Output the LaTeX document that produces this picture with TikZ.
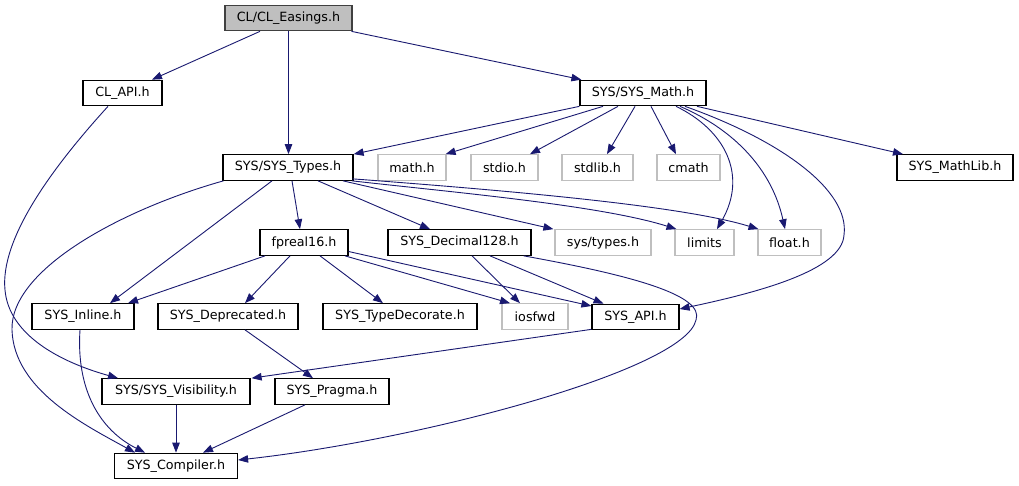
\documentclass[tikz,border=0pt]{standalone}
\usepackage{fontspec}
\setmainfont{DejaVu Sans}
\usetikzlibrary{arrows.meta}
\definecolor{edgeblue}{RGB}{25,25,112}
\definecolor{sysgray}{RGB}{191,191,191}
\definecolor{rootfill}{RGB}{191,191,191}
\definecolor{boxline}{RGB}{64,64,64}
\begin{document}
\begin{tikzpicture}[x=1pt,y=-1pt,
  box/.style={draw=black,line width=1.2pt,minimum height=25.5pt,inner sep=0pt,font=\fontsize{12.7}{15}\selectfont,text=black},
  sysbox/.style={box,draw=sysgray},
  rootbox/.style={box,fill=rootfill,draw=boxline},
  edge/.style={draw=edgeblue,line width=0.9pt,-{Triangle[length=10pt,width=7.5pt]}}]
\useasboundingbox (0,0) rectangle (1019,485);
\fill[white] (0,0) rectangle (1019,485);
% nodes
\node[rootbox,minimum width=127pt] (easings) at (288.5,18) {CL/CL\_Easings.h};
\node[box,minimum width=79pt] (clapi) at (122.5,93) {CL\_API.h};
\node[box,minimum width=126pt] (sysmath) at (643,93) {SYS/SYS\_Math.h};
\node[box,minimum width=130pt] (systypes) at (288,167.5) {SYS/SYS\_Types.h};
\node[sysbox,minimum width=68pt] (mathh) at (412,167.5) {math.h};
\node[sysbox,minimum width=67pt] (stdio) at (504.5,167.5) {stdio.h};
\node[sysbox,minimum width=71pt] (stdlib) at (597.5,167.5) {stdlib.h};
\node[sysbox,minimum width=63pt] (cmath) at (688.5,167.5) {cmath};
\node[box,minimum width=116pt] (mathlib) at (955,167.5) {SYS\_MathLib.h};
\node[box,minimum width=88pt] (fpreal) at (304,242.5) {fpreal16.h};
\node[box,minimum width=143pt] (dec) at (459.5,242.5) {SYS\_Decimal128.h};
\node[sysbox,minimum width=96pt] (systypesh) at (603,242.5) {sys/types.h};
\node[sysbox,minimum width=59pt] (limits) at (704.5,242.5) {limits};
\node[sysbox,minimum width=63pt] (floath) at (789.5,242.5) {float.h};
\node[box,minimum width=102pt] (inline) at (83,316.5) {SYS\_Inline.h};
\node[box,minimum width=140pt] (deprecated) at (228,316.5) {SYS\_Deprecated.h};
\node[box,minimum width=154pt] (typedec) at (400,316.5) {SYS\_TypeDecorate.h};
\node[sysbox,minimum width=66pt] (iosfwd) at (535,316.5) {iosfwd};
\node[box,minimum width=87pt] (sysapi) at (635.5,317) {SYS\_API.h};
\node[box,minimum width=148pt] (visibility) at (176,391.5) {SYS/SYS\_Visibility.h};
\node[box,minimum width=114pt] (pragma) at (332,391.5) {SYS\_Pragma.h};
\node[box,minimum width=123pt] (compiler) at (176,466) {SYS\_Compiler.h};
% edges
\draw[edge] ([xshift=-28.5pt]easings.south) -- ([xshift=29.5pt]clapi.north);
\draw[edge] (easings.south) -- (easings.south |- systypes.north);
\draw[edge] ([xshift=63pt]easings.south) -- ([xshift=2pt]sysmath.north west);
\draw[edge] ([xshift=-14.5pt]clapi.south) .. controls (50,170) and (0,240) .. (5,290) .. controls (9,335) and (60,362) .. ([xshift=-58pt]visibility.north);
\draw[edge] (sysmath.south west) -- (systypes.north east);
\draw[edge] ([xshift=-40pt]sysmath.south) -- ([xshift=-1pt]mathh.north east);
\draw[edge] ([xshift=-25pt]sysmath.south) -- ([xshift=25.5pt]stdio.north);
\draw[edge] ([xshift=-8pt]sysmath.south) -- ([xshift=9.5pt]stdlib.north);
\draw[edge] ([xshift=8pt]sysmath.south) -- ([xshift=-12.5pt]cmath.north);
\draw[edge] ([xshift=33pt]sysmath.south) .. controls (725,130) and (748,175) .. ([xshift=12.5pt]limits.north);
\draw[edge] ([xshift=37pt]sysmath.south) .. controls (735,130) and (772,170) .. ([xshift=-4.5pt]floath.north);
\draw[edge] ([xshift=42pt]sysmath.south) .. controls (780,140) and (850,190) .. (844,235) .. controls (842,270) and (760,292) .. ([yshift=8pt]sysapi.east);
\draw[edge] ([xshift=54pt]sysmath.south) -- ([xshift=-52pt]mathlib.north);
\draw[edge] ([xshift=4pt]systypes.south) -- ([xshift=-4pt]fpreal.north);
\draw[edge] ([xshift=30pt]systypes.south) -- ([xshift=-29.5pt]dec.north);
\draw[edge] ([xshift=55pt]systypes.south) -- ([xshift=-1pt]systypesh.north west);
\draw[edge] ([xshift=64pt]systypes.south) .. controls (450,192) and (600,205) .. ([xshift=-28pt]limits.north);
\draw[edge] ([xshift=-1pt,yshift=2pt]systypes.south east) .. controls (500,190) and (680,205) .. ([xshift=-31pt]floath.north);
\draw[edge] ([xshift=-16pt]systypes.south) -- ([xshift=27pt]inline.north);
\draw[edge] ([xshift=1pt]systypes.south west) .. controls (120,210) and (10,270) .. (12,330) .. controls (14,390) and (85,425) .. ([xshift=-41pt]compiler.north);
\draw[edge] ([xshift=-39pt]fpreal.south) -- ([xshift=45pt]inline.north);
\draw[edge] ([xshift=-14pt]fpreal.south) -- ([xshift=17pt]deprecated.north);
\draw[edge] ([xshift=16pt]fpreal.south) -- ([xshift=-17pt]typedec.north);
\draw[edge] ([xshift=41pt]fpreal.south) -- ([xshift=-25pt]iosfwd.north);
\draw[edge] ([yshift=-9pt]fpreal.east) -- ([yshift=11pt]sysapi.west);
\draw[edge] ([xshift=12.5pt]dec.south) -- ([xshift=-15pt]iosfwd.north);
\draw[edge] ([xshift=30.5pt]dec.south) -- ([xshift=-32pt]sysapi.north);
\draw[edge] ([xshift=-8pt]dec.south east) .. controls (630,275) and (705,295) .. (696,320) .. controls (685,370) and (420,440) .. ([yshift=6pt]compiler.east);
\draw[edge] ([xshift=-3pt]inline.south) .. controls (76,390) and (100,430) .. ([xshift=-31pt]compiler.north);
\draw[edge] ([xshift=17pt]deprecated.south) -- ([xshift=-19pt]pragma.north);
\draw[edge] ([yshift=1pt]sysapi.south west) -- ([xshift=1pt]visibility.north east);
\draw[edge] (visibility.south) -- (visibility.south |- compiler.north);
\draw[edge] ([xshift=-27pt]pragma.south) -- ([xshift=27pt]compiler.north);
\end{tikzpicture}
\end{document}
